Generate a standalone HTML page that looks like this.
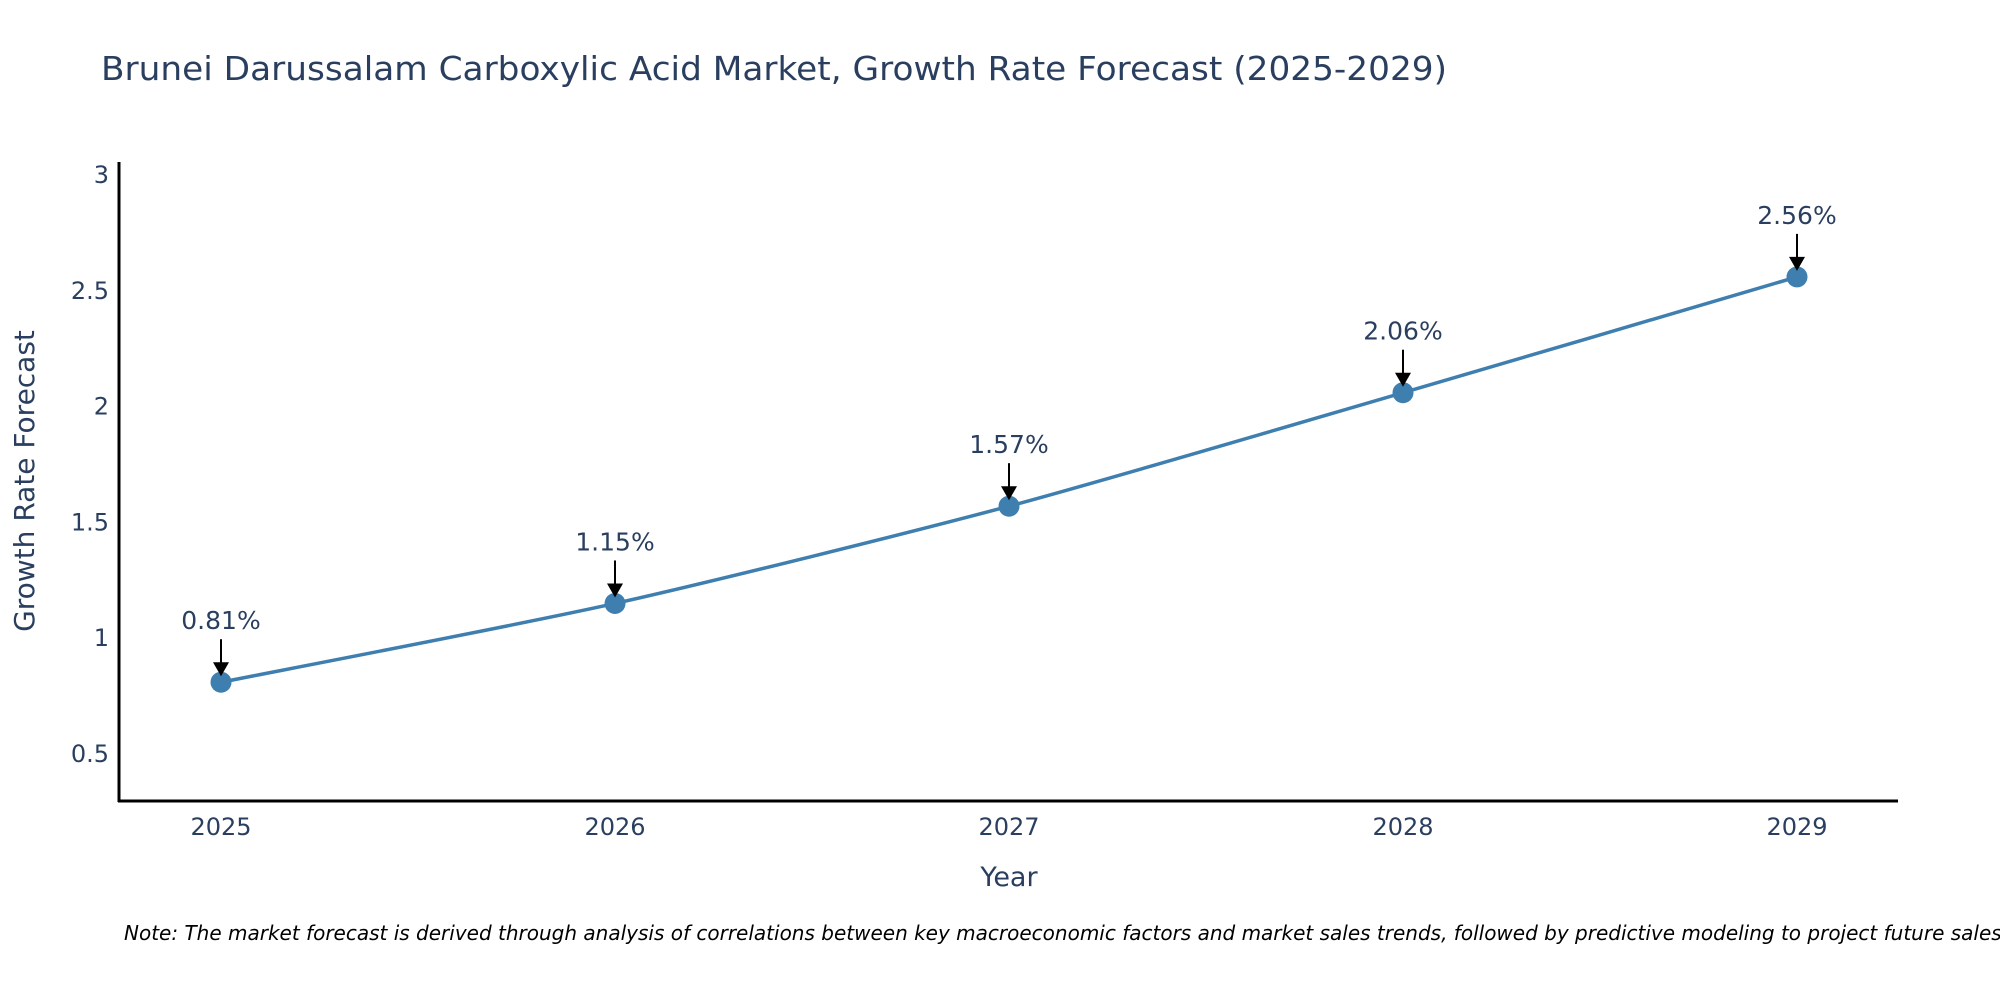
<!DOCTYPE html>
<html><head><meta charset="utf-8"><style>
html,body{margin:0;padding:0;background:#fff;overflow:hidden;}
svg{display:block;font-family:"DejaVu Sans","Liberation Sans",sans-serif;}
</style></head><body>
<svg id="chart" width="2000" height="1000" viewBox="0 0 2000 1000">
<text x="101" y="80" font-size="33" fill="#2a3f5f" textLength="1346" lengthAdjust="spacingAndGlyphs">Brunei Darussalam Carboxylic Acid Market, Growth Rate Forecast (2025-2029)</text>
<g id="yticks"></g>
<g id="xticks"></g>
<line x1="119" y1="162" x2="119" y2="802" stroke="#000" stroke-width="3"/>
<line x1="118" y1="801" x2="1898" y2="801" stroke="#000" stroke-width="3"/>
<text x="34" y="481" font-size="28" fill="#2a3f5f" text-anchor="middle" transform="rotate(-90 34 481)">Growth Rate Forecast</text>
<text x="1009" y="886" font-size="27" fill="#2a3f5f" text-anchor="middle">Year</text>
<g id="series"></g>
<g id="annots"></g>
<text x="124" y="940" font-size="20" font-style="italic" fill="#000">Note: The market forecast is derived through analysis of correlations between key macroeconomic factors and market sales trends, followed by predictive modeling to project future sales.</text>
</svg>
<script>
const years = [2025, 2026, 2027, 2028, 2029];
const growth = [0.81, 1.15, 1.57, 2.06, 2.56];
const labels = ["0.81%", "1.15%", "1.57%", "2.06%", "2.56%"];
const yTickVals = [0.5, 1, 1.5, 2, 2.5, 3];
const yTickLabels = ["0.5", "1", "1.5", "2", "2.5", "3"];

const NS = "http://www.w3.org/2000/svg";
function xs(yr){ return 221 + (yr - 2025) * 394; }
function ys(v){ return 754 - (v - 0.5) * 231.6; }
function mk(tag, attrs, parent){ const e=document.createElementNS(NS,tag); for(const k in attrs) e.setAttribute(k,attrs[k]); parent.appendChild(e); return e; }

const yt = document.getElementById('yticks');
yTickVals.forEach((v,i)=>{
  const t = mk('text',{x:109,y:ys(v)+8,'font-size':24,fill:'#2a3f5f','text-anchor':'end'},yt);
  
  
  t.textContent = yTickLabels[i];
});
const xt = document.getElementById('xticks');
years.forEach(yr=>{
  const t = mk('text',{x:xs(yr),y:835,'font-size':24,fill:'#2a3f5f','text-anchor':'middle'},xt);
  
  
  t.textContent = String(yr);
});

const pts = years.map((yr,i)=>[xs(yr), ys(growth[i])]);
let d = `M${pts[0][0]},${pts[0][1]}`;
for(let i=0;i<pts.length-1;i++){
  const p0=pts[Math.max(0,i-1)], p1=pts[i], p2=pts[i+1], p3=pts[Math.min(pts.length-1,i+2)];
  const s=0.12;
  const c1=[p1[0]+(p2[0]-p0[0])*s, p1[1]+(p2[1]-p0[1])*s];
  const c2=[p2[0]-(p3[0]-p1[0])*s, p2[1]-(p3[1]-p1[1])*s];
  d += ` C${c1[0]},${c1[1]} ${c2[0]},${c2[1]} ${p2[0]},${p2[1]}`;
}
const sg = document.getElementById('series');
const line = mk('path',{d:d,fill:'none',stroke:'#3f7fb0','stroke-width':3.5},sg);


pts.forEach(p=>{
  const c = mk('circle',{cx:p[0],cy:p[1],r:10.5,fill:'#3f7fb0'},sg);
  
  
});

const ag = document.getElementById('annots');
pts.forEach((p,i)=>{
  const x=p[0], y=p[1];
  const l = mk('line',{x1:x,y1:y-43,x2:x,y2:y-18,stroke:'#000','stroke-width':2},ag);
  
  
  const h = mk('polygon',{points:`${x-8},${y-20} ${x+8},${y-20} ${x},${y-6}`,fill:'#000'},ag);
  
  
  const t = mk('text',{x:x,y:y-53,'font-size':25,fill:'#2a3f5f','text-anchor':'middle'},ag);
  
  
  t.textContent = labels[i];
});
</script>
</body></html>
